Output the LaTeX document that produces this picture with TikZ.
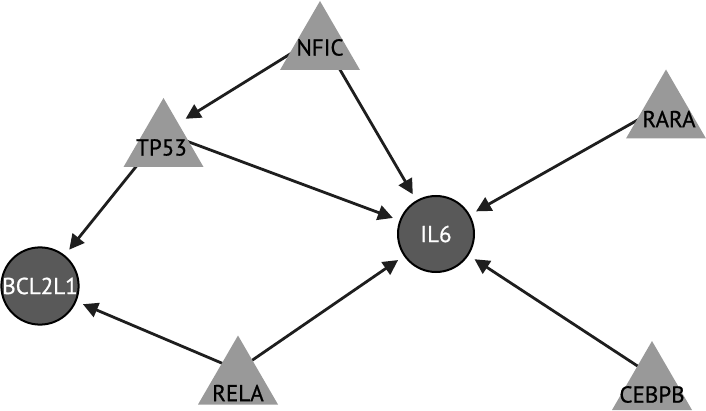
\documentclass[tikz,border=0pt]{standalone}
\usepackage{fontspec}
\setmainfont{PT Sans}
\newfontfamily\nodefont[FakeBold=0.8]{PT Sans}
\usetikzlibrary{arrows.meta}
\pgfdeclarelayer{edgelayer}
\pgfdeclarelayer{trilayer}
\pgfsetlayers{edgelayer,trilayer,main}
\definecolor{trigray}{HTML}{999999}
\definecolor{circgray}{HTML}{595959}
\definecolor{edgecol}{HTML}{1E1E1E}
\begin{document}
\begin{tikzpicture}[x=1pt,y=-1pt,
  tri/.style={rectangle,minimum width=80pt,minimum height=69pt,inner sep=0pt,outer sep=0pt},
  trilabel/.style={font=\nodefont\fontsize{23}{23}\selectfont,text=black,inner sep=0pt},
  circ/.style={circle,fill=circgray,draw=black,line width=2pt,minimum size=76pt,inner sep=0pt,outer sep=0pt,text=white,font=\nodefont\fontsize{23}{23}\selectfont},
  edge/.style={draw=edgecol,line width=2.8pt,-{Triangle[length=15pt,width=15pt]},shorten >=8pt}]
\useasboundingbox (0,0) rectangle (706,411);
% triangle nodes (bounding-box centres)
\node[tri,label={[trilabel,yshift=-12pt]center:NFIC}] (nfic) at (320,35.5) {};
\node[tri,label={[trilabel,yshift=-15pt,xshift=-2pt]center:TP53}] (tp53) at (163.5,132.5) {};
\node[tri,label={[trilabel,yshift=-15pt,xshift=3pt]center:RARA}] (rara) at (666,104) {};
\node[tri,label={[trilabel,yshift=-23pt]center:RELA}] (rela) at (238,370) {};
\node[tri,label={[trilabel,yshift=-19pt]center:CEBPB}] (cebpb) at (652,375.5) {};
% circle nodes
\node[circ] (bcl) at (40,286) {BCL2L1};
\node[circ] (il6) at (436,234) {IL6};
\begin{pgfonlayer}{trilayer}
\foreach \n in {nfic,tp53,rara,rela,cebpb}
  \fill[trigray] (\n.north) -- (\n.south east) -- (\n.south west) -- cycle;
\end{pgfonlayer}
\begin{pgfonlayer}{edgelayer}
\draw[edge,shorten >=26pt] (nfic.center) -- (tp53.center);
\draw[edge] (nfic.center) -- (il6);
\draw[edge] (tp53.center) -- (il6);
\draw[edge] (tp53.center) -- (bcl);
\draw[edge] (rara.center) -- (il6);
\draw[edge] (rela.center) -- (bcl);
\draw[edge] (rela.center) -- (il6);
\draw[edge] (cebpb.center) -- (il6);
\end{pgfonlayer}
\end{tikzpicture}
\end{document}
